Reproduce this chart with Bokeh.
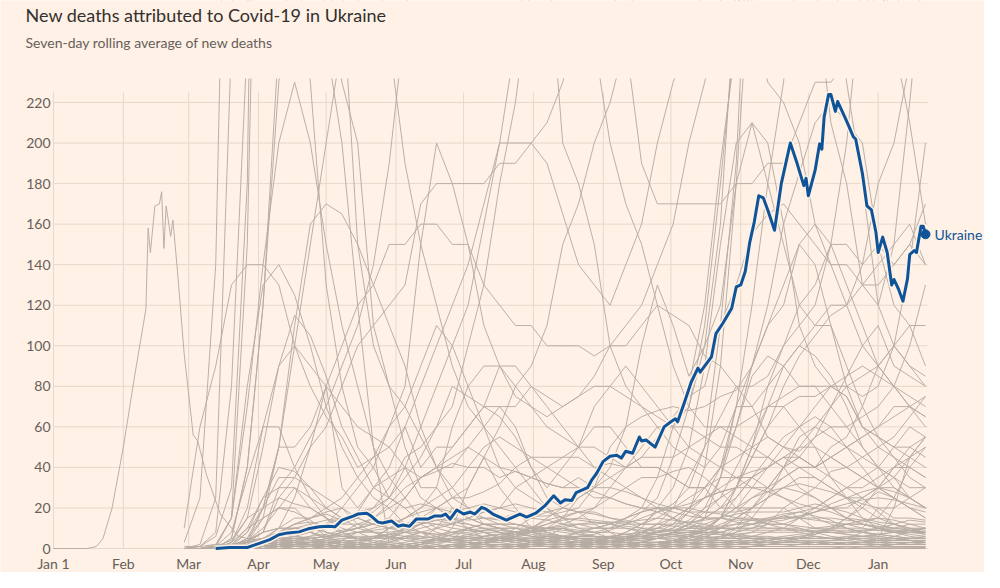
from bokeh.plotting import figure
from bokeh.models import Range1d
from bokeh.embed import file_html
from bokeh.resources import INLINE
from bokeh.core.properties import value

# ---------------- data ----------------
title_text = "New deaths attributed to Covid-19 in Ukraine"
subtitle_text = "Seven-day rolling average of new deaths"

# x axis: days since 1 Jan 2020
month_days = [0, 31, 60, 91, 121, 152, 182, 213, 244, 274, 305, 335, 366]
month_labels = ["Jan 1", "Feb", "Mar", "Apr", "May", "Jun", "Jul", "Aug", "Sep", "Oct", "Nov", "Dec", "Jan"]
y_ticks = [0, 20, 40, 60, 80, 100, 120, 140, 160, 180, 200, 220]
y_tick_labels = [str(t) for t in y_ticks]

# weekly sample dates for the other countries: 28 Feb 2020 .. 22 Jan 2021
week_days = list(range(58, 388, 7))

us = [0,1,6,30,180,700,1500,1900, 1900,1800,1700,1400,1200,1000,950,800, 650,550,550,700,800,950,1050,1100,
      1050,1000,900,850,800,750,750,700, 700,750,800,850,1000,1200,1500,1600, 1800,2300,2600,2300,2600,3100,3300,3100]
uk = [0,0,2,15,150,500,800,850, 750,600,450,380,300,250,190,150, 120,90,70,60,50,40,30,20,
      12,10,10,10,15,20,35,60, 80,120,190,250,340,420,450,430, 420,420,450,500,650,950,1100,1200]
italy = [3,25,140,500,800,780,620,480, 420,300,230,200,110,80,70,55, 40,25,20,15,12,10,8,6,
         5,6,7,9,12,15,18,22, 30,50,110,190,350,520,650,700, 700,600,520,450,420,480,440,420]
spain = [0,2,25,250,650,850,650,550, 380,250,200,120,50,2,0,0, 5,5,10,5,5,5,5,10,
         15,25,30,40,60,100,130,110, 85,100,120,180,300,300,340,300, 280,210,180,130,120,150,220,300]
france = [0,1,8,80,250,900,1000,800, 600,400,280,150,100,80,50,30, 30,20,15,12,12,12,10,10,
          12,15,20,30,40,50,60,60, 70,100,160,280,400,550,450,380, 320,330,300,280,250,300,350,400]
germany = [0,0,1,15,70,140,200,230, 200,150,110,80,50,35,25,15, 10,8,7,6,5,5,5,5,
           5,6,6,5,6,6,8,10, 14,20,35,70,120,180,230,290, 370,430,550,700,750,850,850,800]
brazil = [0,0,0,5,40,120,230,300, 390,550,650,750,850,950,1000,1000, 1050,1050,1050,1050,1050,1050,1050,1050,
          1000,1000,900,850,800,700,700,650, 600,500,450,400,350,400,500,550, 550,630,700,750,700,750,1000,1050]
mexico = [0,0,0,0,3,15,50,100, 150,200,250,270,330,400,450,550, 600,650,650,700,700,680,650,600,
          620,600,550,500,450,450,400,400, 350,330,380,400,420,450,550,600, 650,700,800,800,900,1050,1100,1200]
india = [0,0,0,1,4,8,30,40, 55,70,90,110,140,190,260,330, 320,420,450,500,600,700,750,850,
         950,1000,1000,1050,1150,1150,1100,1000, 950,800,700,600,500,490,550,500, 450,400,350,300,280,250,210,160]
russia = [0,0,0,0,1,4,10,25, 50,80,100,120,130,150,150,160, 160,150,150,130,120,110,110,100,
          100,100,95,100,110,120,140,160, 200,230,270,330,370,390,450,480, 520,550,550,560,580,550,530,500]
iran = [10,60,90,130,140,140,130,100, 80,65,55,40,45,50,60,80, 100,120,140,170,200,200,200,190,
        165,140,130,120,140,160,200,230, 250,280,330,400,430,450,460,430, 370,300,230,180,120,100,90,85]
peru = [0,0,0,0,3,8,25,35, 50,60,80,100,110,120,130,170, 180,180,180,180,190,190,200,210,
        230,260,250,200,170,150,120,90, 70,60,60,55,50,45,40,45, 55,60,60,65,70,80,100,130]
colombia = [0,0,0,0,0,2,5,10, 10,12,15,18,20,25,40,60, 80,100,120,160,200,250,300,310,
            320,300,280,280,250,190,170,170, 170,170,170,180,180,190,190,210, 230,230,240,250,280,330,350,380]
argentina = [0,0,0,0,2,5,8,10, 10,8,6,6,6,7,10,12, 20,25,30,45,60,80,90,110,
             150,170,200,220,250,300,300,330, 340,380,400,300,270,230,220,200, 160,140,140,130,130,140,150,170]
south_africa = [0,0,0,0,0,1,2,4, 6,10,12,15,20,30,45,50, 60,70,100,130,180,220,280,300,
                200,180,150,100,80,70,60,50, 45,40,50,70,70,80,100,120, 130,150,200,280,380,500,600,560]
belgium = [0,0,0,5,40,120,250,300, 230,130,80,50,40,25,20,12, 8,6,5,4,5,6,8,9,
           10,7,6,5,6,6,8,10, 18,40,90,180,210,200,160,110, 90,80,75,60,55,50,50,45]
netherlands = [0,0,1,15,80,130,140,125, 100,70,50,35,25,20,12,8, 4,3,3,2,2,1,2,2,
               2,3,4,5,8,12,15,20, 35,50,65,80,70,55,50,48, 55,70,85,100,110,90,85,80]
canada = [0,0,0,1,5,20,50,110, 160,170,165,150,130,110,90,60, 40,30,20,12,10,8,6,5,
          5,4,4,5,6,7,12,20, 22,25,28,30,45,60,80,95, 105,115,120,130,140,150,160,140]
poland = [0,0,0,1,2,5,10,15, 15,17,14,15,12,15,12,13, 12,10,9,8,5,7,8,10,
          11,12,12,13,12,18,25,45, 70,110,180,260,330,400,450,500, 450,430,400,400,300,250,320,300]
romania = [0,0,0,1,8,20,35,35, 30,25,20,15,12,14,12,15, 20,25,25,28,32,40,45,45,
           45,45,40,42,40,45,55,65, 75,80,110,130,155,165,170,160, 150,140,120,100,90,80,70,65]
czechia = [0,0,0,0,1,4,7,6, 5,3,2,1,1,1,1,1, 1,1,1,1,1,1,1,1,
           2,2,2,3,5,10,20,30, 50,90,150,200,210,180,150,120, 110,120,120,140,150,140,150,140]
hungary = [0,0,0,0,1,3,8,12, 13,11,8,4,4,3,2,1, 1,1,1,1,0,0,1,1,
           1,1,3,5,8,12,18,20, 25,30,40,60,90,110,120,150, 160,150,130,110,90,80,75,70]
turkey = [0,0,0,3,20,60,90,115, 105,85,60,45,30,25,20,22, 20,18,17,15,15,17,16,16,
          18,20,30,50,60,65,68,70, 68,70,75,78,90,120,160,185, 210,220,210,200,150,120,110,110]
indonesia = [0,0,0,3,10,15,20,30, 25,20,15,18,30,35,40,35, 40,40,50,60,70,70,80,75,
             70,75,85,100,100,110,120,115, 110,95,90,80,80,85,100,110, 120,150,150,140,180,200,240,250]
pakistan = [0,0,0,1,2,4,8,12, 15,20,25,35,45,60,70,90, 110,100,80,60,40,30,25,20,
            15,10,8,5,5,5,6,8, 10,12,15,20,30,40,50,60, 70,80,75,60,55,45,35,30]
chile = [0,0,0,0,1,2,4,6, 8,12,20,30,40,60,80,150, 200,180,150,110,90,80,70,60,
         55,50,50,45,40,40,40,35, 30,30,35,35,38,40,45,45, 40,45,50,55,60,70,70,75]
ecuador = [0,0,0,0,3,20,50,50, 60,80,30,20,30,40,60,40, 50,50,60,70,70,60,40,30,
           40,50,60,60,50,40,40,35, 30,30,20,20,20,20,20,15, 10,10,10,10,20,20,25,30]
bolivia = [0,0,0,0,0,1,2,3, 5,6,8,10,15,20,25,35, 40,50,60,70,90,90,80,70,
           60,50,40,35,30,25,20,15, 10,10,8,5,5,5,5,5, 8,10,15,20,30,40,50,55]
egypt = [0,0,1,2,4,5,8,10, 12,14,15,17,18,25,35,45, 60,80,75,70,65,55,40,25,
         20,18,18,15,14,12,12,11, 11,11,11,12,12,13,14,16, 18,22,25,28,30,40,45,50]
iraq = [0,0,1,2,3,4,4,3, 3,3,4,4,5,10,15,20, 30,60,80,90,90,75,70,65,
        70,75,80,80,75,70,65,60, 60,55,50,50,45,45,40,30, 25,20,15,12,10,8,8,7]
philippines = [0,0,1,4,15,20,25,22, 20,15,10,8,5,5,8,10, 12,12,15,18,20,30,35,40,
               45,50,70,80,90,80,70,60, 50,45,40,35,30,30,35,40, 40,45,40,35,40,50,60,55]
sweden = [0,0,0,3,15,50,90,100, 90,80,70,60,55,50,40,25, 20,15,12,10,8,5,3,3,
          2,2,1,1,1,1,1,1, 2,3,5,10,20,30,40,50, 60,70,80,85,90,100,110,90]
switzerland = [0,0,1,8,35,60,60,40, 25,15,8,5,3,2,1,1, 1,1,1,1,1,1,1,1,
               1,1,1,1,1,2,2,3, 6,15,35,60,85,95,90,80, 80,80,85,90,85,80,70,60]
austria = [0,0,0,1,5,15,20,20, 12,6,3,2,1,1,1,1, 1,1,1,1,1,1,1,1,
           1,2,2,2,2,3,5,5, 6,8,15,30,50,70,90,100, 110,110,90,70,55,50,45,40]
portugal = [0,0,0,2,10,25,30,30, 20,15,12,12,12,10,10,8, 6,4,4,5,4,3,2,2,
            2,2,3,4,5,7,8,9, 12,15,20,30,45,60,70,75, 75,80,80,75,80,100,140,200]
japan = [1,1,2,2,3,5,8,12, 15,18,20,12,8,5,2,1, 1,0,0,1,1,1,3,6,
         10,12,13,12,10,8,7,6, 6,5,5,6,8,12,20,25, 30,38,40,45,50,55,65,75]
bangladesh = [0,0,0,0,1,1,3,5, 5,6,8,12,15,22,30,35, 38,42,40,40,35,38,35,32,
              30,35,30,30,28,25,22,20, 18,18,18,18,20,25,30,32, 30,28,25,22,20,15,15,14]
saudi = [0,0,0,0,1,3,4,5, 6,7,9,10,12,15,25,35, 40,45,50,45,40,38,35,32,
         30,30,28,25,22,20,20,18, 16,15,15,14,14,12,12,11, 10,9,8,8,7,6,5,5]
ireland = [0,0,0,2,8,25,40,38, 30,20,15,10,8,6,4,3, 2,1,1,0,0,0,0,0,
           0,0,0,1,1,2,2,3, 4,6,5,5,5,5,5,4, 3,3,3,3,5,20,45,55]
israel = [0,0,0,0,1,3,8,10, 8,5,3,2,1,1,1,1, 1,2,3,6,7,8,10,12,
          15,18,20,25,30,35,35,38, 40,35,28,20,15,12,12,15, 18,20,20,25,30,35,45,55]
morocco = [0,0,0,0,1,2,4,4, 3,2,1,1,1,1,0,1, 1,1,2,3,5,8,10,15,
           20,25,30,35,40,45,45,45, 50,55,60,60,65,70,75,80, 80,70,60,50,40,30,25,20]
bulgaria = [0,0,0,1,1,1,1,2, 2,2,1,1,1,1,1,2, 3,4,5,6,7,8,9,8,
            6,5,5,6,7,8,10,12, 20,25,40,70,90,110,130,150, 140,110,80,60,50,45,40,35]
serbia = [0,0,0,0,1,3,5,6, 5,4,2,1,1,1,1,2, 4,7,10,12,10,8,6,5,
          4,3,2,2,2,1,1,2, 3,4,5,8,15,25,40,55, 60,55,50,45,40,35,30,30]
greece = [0,0,0,1,2,3,3,2, 2,2,1,1,1,0,0,0, 0,0,0,0,0,0,1,2,
          2,3,4,5,5,6,6,7, 8,10,15,30,50,80,90,100, 95,85,70,50,40,35,25,20]
croatia = [0,0,0,0,0,1,2,3, 3,2,1,0,0,0,0,0, 1,2,2,2,2,2,1,1,
           1,1,2,2,2,2,3,4, 6,9,15,25,35,45,55,60, 65,60,50,40,30,25,20,15]
slovakia = [0,0,0,0,0,0,0,1, 0,0,0,0,0,0,0,0, 0,0,0,0,0,0,0,0,
            0,0,0,0,1,1,2,4, 6,10,15,20,25,30,40,45, 40,50,55,70,90,100,90,80]
kazakhstan = [0,0,0,0,0,0,1,1, 1,1,1,1,1,2,3,5, 10,20,15,12,10,5,3,2,
              2,1,1,1,1,1,1,1, 1,1,2,2,3,4,5,5, 6,5,5,5,4,4,4,3]
algeria = [0,0,0,1,4,10,20,18, 14,8,6,5,6,7,8,8, 7,8,9,10,10,10,10,10,
           10,9,8,8,7,6,7,7, 8,9,10,10,12,15,17,18, 16,14,10,8,6,5,4,4]
nigeria = [0,0,0,0,0,0,1,2, 3,5,6,8,9,10,12,15, 15,13,12,10,8,6,5,4,
           3,3,2,2,1,1,1,1, 1,1,1,1,1,1,1,2, 3,4,5,8,10,12,14,13]
guatemala = [0,0,0,0,0,0,0,0, 0,0,1,2,5,10,15,20, 25,30,40,50,55,50,45,40,
             35,30,25,25,22,20,18,15, 12,10,10,10,10,12,10,10, 8,8,8,9,10,10,12,12]
panama = [0,0,0,1,3,5,5,5, 4,3,2,2,2,3,6,8, 10,12,15,18,20,22,20,18,
          15,14,13,12,11,10,10,9, 9,8,8,10,12,14,16,18, 20,25,30,30,35,40,40,35]
honduras = [0,0,0,0,1,1,2,2, 2,2,3,4,5,6,8,12, 15,18,20,22,20,18,15,14,
            12,12,10,10,10,9,9,8, 8,7,7,6,6,6,5,5, 5,5,5,6,7,8,9,10]
dominican = [0,0,0,1,3,8,10,10, 8,6,6,5,5,5,5,5, 6,8,10,12,12,12,10,8,
             6,5,4,4,3,3,3,2, 2,2,2,2,2,3,4,5, 5,5,6,6,7,8,9,8]
belarus = [0,0,0,0,0,0,1,2, 3,4,5,5,6,6,5,4, 4,3,2,2,2,2,2,2,
           2,2,3,3,3,3,3,4, 4,5,6,7,8,8,8,8, 9,9,9,9,9,8,8,8]
moldova = [0,0,0,0,0,1,2,3, 5,6,7,8,8,8,9,12, 14,15,14,15,14,12,11,10,
           9,8,8,10,12,12,12,12, 13,14,15,17,18,18,18,20, 22,20,15,14,12,10,10,9]
armenia = [0,0,0,0,0,1,1,1, 1,1,1,2,3,5,10,12, 14,12,10,8,6,5,4,4,
           4,3,3,3,4,5,8,12, 18,25,30,35,35,30,25,20, 15,12,10,8,7,6,5,5]
georgia = [0,0,0,0,0,0,0,0, 0,0,0,0,0,0,0,0, 0,0,0,0,0,0,0,0,
           0,0,0,1,2,3,5,8, 12,20,25,30,35,40,45,50, 50,45,40,35,30,28,25,20]
kyrgyzstan = [0,0,0,0,0,0,0,0, 0,0,0,0,0,0,1,2, 5,10,30,45,30,20,10,8,
              6,5,4,3,3,3,3,3, 3,3,4,4,4,3,3,3, 3,3,2,2,2,2,2,2]
tunisia = [0,0,0,0,0,1,1,0, 0,0,0,0,0,0,0,0, 0,0,0,0,0,0,0,0,
           1,1,2,3,5,8,10,15, 20,30,40,45,50,55,50,45, 40,45,50,55,60,65,70,65]
lebanon = [0,0,0,0,0,0,0,0, 0,0,0,0,0,0,0,0, 0,0,0,0,0,1,2,3,
           4,5,5,6,7,8,8,9, 10,10,10,12,14,15,15,15, 15,15,14,13,15,25,40,50]
jordan = [0,0,0,0,0,0,0,0, 0,0,0,0,0,0,0,0, 0,0,0,0,0,0,0,0,
          0,0,0,1,2,3,5,8, 12,18,25,40,55,70,70,60, 50,35,25,15,10,8,6,5]
nepal = [0,0,0,0,0,0,0,0, 0,0,0,0,0,0,0,1, 1,1,1,1,1,1,2,3,
         5,8,10,12,15,18,20,20, 18,15,15,13,12,10,10,9, 8,8,7,6,6,5,4,3]
australia = [0,0,0,1,2,3,4,3, 2,1,0,0,0,0,0,0, 0,0,1,2,5,10,15,18,
             20,18,12,8,4,2,1,1, 0,0,0,0,0,0,0,0, 0,0,0,0,0,0,0,0]
denmark = [0,0,0,1,4,8,10,10, 8,5,4,3,2,1,1,1, 0,0,0,0,0,0,0,0,
           0,0,0,0,0,1,1,2, 2,2,2,3,4,5,5,6, 7,10,15,22,28,25,20,15]
slovenia = [0,0,0,0,0,1,2,3, 3,2,1,0,0,0,0,0, 0,0,0,0,0,0,0,0,
            0,0,0,0,0,0,0,1, 2,5,10,18,25,28,30,35, 35,30,25,25,30,30,25,20]
bosnia = [0,0,0,0,0,1,2,3, 2,1,1,1,0,0,0,1, 2,4,6,8,8,7,6,6,
          5,5,5,5,5,5,6,8, 10,15,20,25,35,40,45,40, 35,30,25,20,15,12,10,10]
n_macedonia = [0,0,0,0,0,1,1,2, 2,1,1,1,1,3,5,8, 7,6,6,5,5,4,3,3,
               3,3,3,3,3,3,3,4, 5,7,10,15,20,25,30,28, 25,20,18,15,13,12,10,8]
kenya = [0,0,0,0,0,0,0,0, 0,0,0,0,0,0,0,1, 1,1,2,3,4,5,8,10,
         10,8,6,5,4,4,5,6, 7,9,12,15,15,14,12,10, 8,6,5,4,4,4,4,4]
afghanistan = [0,0,0,0,0,0,0,1, 1,2,4,8,10,12,15,18, 20,15,10,8,5,4,3,2,
               2,2,1,1,1,1,2,3, 4,6,8,10,10,10,10,8, 6,5,4,3,3,2,2,2]
kuwait = [0,0,0,0,0,0,0,0, 0,1,2,3,5,7,6,5, 4,4,4,4,4,4,4,4,
          4,3,3,4,4,5,6,8, 8,8,7,6,5,4,3,3, 3,3,2,2,2,1,1,1]
venezuela = [0,0,0,0,0,0,0,0, 0,0,0,0,0,0,0,0, 0,0,1,1,2,3,4,5,
             6,6,6,6,5,5,5,4, 4,4,4,3,3,3,3,3, 3,3,3,3,3,3,3,3]
finland = [0,0,0,0,1,2,3,4, 5,4,3,2,1,1,0,0, 0,0,0,0,0,0,0,0,
           0,0,0,0,0,0,0,0, 0,0,1,1,1,2,2,2, 3,3,2,2,2,2,2,2]
norway = [0,0,0,0,1,3,5,5, 4,3,2,1,1,0,0,0, 0,0,0,0,0,0,0,0,
          0,0,0,0,0,0,0,0, 0,0,0,1,1,2,3,3, 3,2,2,2,3,3,2,2]
lithuania = [0,0,0,0,0,1,1,1, 1,1,1,0,0,0,0,0, 0,0,0,0,0,0,0,0,
             0,0,0,0,0,0,0,1, 1,2,3,4,6,8,10,15, 20,25,30,35,30,25,20,18]
latvia = [0,0,0,0,0,0,0,0, 0,0,0,0,0,0,0,0, 0,0,0,0,0,0,0,0,
          0,0,0,0,0,0,0,0, 0,1,1,2,3,4,5,6, 7,9,12,14,15,14,12,10]
albania = [0,0,0,0,1,1,1,1, 1,0,0,0,0,0,0,0, 1,1,2,3,3,4,4,3,
           3,3,2,2,2,3,3,3, 4,5,6,8,10,14,16,15, 14,13,12,10,9,9,9,10]
el_salvador = [0,0,0,0,0,0,0,0, 0,0,0,1,1,1,2,3, 4,5,7,9,10,10,8,7,
               6,5,4,4,3,3,3,3, 3,3,3,3,3,3,3,4, 4,4,4,5,5,5,5,5]
costa_rica = [0,0,0,0,0,0,0,0, 0,0,0,0,0,0,0,0, 0,1,1,2,4,6,9,12,
              14,15,14,13,13,14,15,14, 13,12,10,9,9,9,9,9, 10,11,12,12,11,10,9,8]
paraguay = [0,0,0,0,0,0,0,0, 0,0,0,0,0,0,0,0, 0,0,0,1,1,2,3,4,
            6,8,10,12,15,18,20,20, 20,18,17,15,14,14,15,16, 18,20,22,24,25,24,22,20]
malaysia = [0,0,0,1,2,3,2,1, 1,0,0,0,0,0,0,0, 0,0,0,0,0,0,0,0,
            0,0,0,0,0,0,1,1, 2,3,3,3,3,3,3,3, 3,2,2,3,3,4,5,6]
myanmar = [0,0,0,0,0,0,0,0, 0,0,0,0,0,0,0,0, 0,0,0,0,0,0,0,0,
           0,0,1,2,4,8,12,15, 20,25,28,30,30,28,25,22, 20,18,15,12,10,8,7,6]
ethiopia = [0,0,0,0,0,0,0,0, 0,0,0,0,0,0,1,1, 1,2,2,3,5,7,10,14,
            16,18,17,15,13,10,8,7, 6,6,5,5,5,5,6,7, 8,8,7,6,5,4,4,3]
sudan = [0,0,0,0,0,0,1,2, 3,5,8,10,12,10,8,6, 5,4,3,2,1,1,1,1,
         1,0,0,0,0,0,0,0, 0,0,0,0,1,2,3,5, 8,10,12,12,10,9,8,8]
uae = [0,0,0,0,0,0,1,2, 2,3,3,3,2,2,1,1, 1,1,1,1,1,0,0,0,
       1,1,1,1,1,1,1,2, 2,3,3,3,2,2,2,2, 2,2,2,3,4,6,8,10]
azerbaijan = [0,0,0,0,0,0,0,0, 0,0,0,0,0,1,2,3, 5,7,8,9,9,8,7,6,
              5,4,3,3,3,3,3,4, 5,7,10,15,20,28,35,40, 40,35,30,25,18,12,9,7]
uzbekistan = [0,0,0,0,0,0,0,0, 0,0,0,0,0,0,0,0, 1,1,2,4,6,8,8,7,
              5,4,3,2,2,1,1,1, 1,1,1,1,1,1,1,1, 1,1,1,0,0,0,0,0]
ghana = [0,0,0,0,0,0,0,0, 0,0,0,0,1,1,2,3, 4,5,5,5,4,3,2,1,
         1,1,0,0,0,0,0,0, 0,0,0,0,0,0,0,0, 0,0,1,1,1,2,3,3]
syria = [0,0,0,0,0,0,0,0, 0,0,0,1,2,4,6,6, 5,4,3,3,3,4,5,6,
         6,5,4,3,2,2,2,2, 2,2,2,2,2,2,2,2, 2,2,2,2,2,1,1,1]
luxembourg = [0,0,0,0,1,2,3,3, 2,1,1,0,0,0,0,0, 0,0,0,0,0,0,0,0,
              0,0,0,0,0,0,0,0, 0,1,2,3,4,5,5,5, 6,5,5,4,3,3,3,2]
oman = [0,0,0,0,0,0,0,0, 0,0,0,0,0,1,1,2, 3,4,5,6,7,8,9,9,
        8,7,6,5,4,4,5,6, 7,8,8,7,6,5,4,3, 3,2,2,2,1,1,1,1]

china_days = [0,15,19,22,26,31,36,41,42,43,45,47,48,49,50,52,53,55,58,62,64,68,74,82,90,100,120,160,200,260,320,387]
china_vals = [0,0,1,5,20,50,85,118,158,146,169,170,176,148,169,154,162,137,96,56,53,36,17,6,4,2,1,0,0,0,0,0.5]

ukraine_days = [72,78,86,91,96,100,104,109,113,118,122,125,128,133,135,139,141,144,146,150,
                153,155,158,161,166,169,172,174,176,179,182,185,187,190,192,195,201,207,210,214,
                218,222,225,227,230,232,235,237,239,241,244,247,250,252,254,257,260,261,263,267,
                269,271,274,276,277,280,283,286,287,292,294,297,301,303,305,307,309,311,313,315,
                317,320,323,325,327,330,333,334,335,338,340,341,342,344,345,347,348,352,355,356,
                359,361,363,365,366,368,370,372,373,375,377,379,380,382,383,385,386,387]
ukraine_vals = [0,0.5,0.5,2.4,4.4,6.8,7.7,8.2,9.7,10.7,11,10.7,14,16,17,17.4,16,13,12.6,13.6,
                11,11.6,11,14.5,14.5,16,16,17,14.5,19,17,18,17,20.3,19.4,17,14,17,15.5,17.4,
                21,26,22.5,24,23.7,27.6,29,30,34,37,43,45.5,46,44.6,48,47,55,53,53.5,50,
                55,60,62.5,64,62.5,72,82,89,87,94.5,106,111,118.5,129,130,136.6,151,161,174,173,
                167,157,180,190,200,190,179,182.6,174,186.5,199.6,197,212.7,224,224,215.6,220.5,210.8,203,202,
                185,169,167,156,146,153.6,146,130,132.7,128,122,133,145,147,146,159,159,155]

others = [us, uk, italy, spain, france, germany, brazil, mexico, india, russia, iran, peru, colombia,
          argentina, south_africa, belgium, netherlands, canada, poland, romania, czechia, hungary, turkey,
          indonesia, pakistan, chile, ecuador, bolivia, egypt, iraq, philippines, sweden, switzerland,
          austria, portugal, japan, bangladesh, saudi, ireland, israel, morocco, bulgaria, serbia, greece,
          croatia, slovakia, kazakhstan, algeria, nigeria, guatemala, panama, honduras, dominican, belarus,
          moldova, armenia, georgia, kyrgyzstan, tunisia, lebanon, jordan, nepal, australia, denmark,
          slovenia, bosnia, n_macedonia, kenya, afghanistan, kuwait, venezuela, finland, norway,
          lithuania, latvia, albania, el_salvador, costa_rica, paraguay, malaysia, myanmar, ethiopia,
          sudan, uae, azerbaijan, uzbekistan, ghana, syria, luxembourg, oman]

# ---------------- style / layout ----------------
BG = "#fff1e5"
GRID = "#e6d8cb"
GREY = "#b6aca3"
BLUE = "#0f5499"
TXT = "#66605c"
FONT = "Lato"

W, H = 984, 572
SX = 872 / 387.0          # px per day
SY = 446 / 220.0          # px per death
X0 = -53 / SX             # data x at the left edge of the canvas
Y_BASE = 548              # pixel row of the zero line
x_lo, x_hi = X0, X0 + W / SX
y_hi, y_lo = Y_BASE / SY, -(H - Y_BASE) / SY
clip_top = (Y_BASE - 78) / SY   # where the data lines stop at the top


def px_to_x(px):
    return X0 + px / SX


def py_to_y(py):
    return (Y_BASE - py) / SY


p = figure(width=W, height=H, x_range=Range1d(x_lo, x_hi), y_range=Range1d(y_lo, y_hi),
           x_axis_type=None, y_axis_type=None, output_backend="svg", toolbar_location=None,
           min_border=0, min_border_left=0, min_border_right=0, min_border_top=0, min_border_bottom=0,
           background_fill_color=BG, border_fill_color=BG, outline_line_color=None)

# grid
p.segment(x0=[0] * len(y_ticks), y0=y_ticks, x1=[388] * len(y_ticks), y1=y_ticks,
          line_color=GRID, line_width=1)
p.segment(x0=month_days, y0=[0] * len(month_days), x1=month_days, y1=[225] * len(month_days),
          line_color=GRID, line_width=1)

# other countries
xs = [week_days[:len(s)] for s in others] + [china_days]
ys = [s[:len(week_days)] for s in others] + [china_vals]
p.multi_line(xs=xs, ys=ys, line_color=GREY, line_width=1, line_alpha=0.95)

# cover above the plotting area (lines are cut at the top as in the original)
p.quad(left=[x_lo], right=[x_hi], bottom=[clip_top], top=[y_hi], fill_color=BG, line_color=None)

# Ukraine
p.line(ukraine_days, ukraine_vals, line_color=BG, line_width=6, line_join="round")
p.line(ukraine_days, ukraine_vals, line_color=BLUE, line_width=3, line_join="round")
p.scatter([ukraine_days[-1]], [ukraine_vals[-1]], size=9, fill_color=BLUE, line_color=BLUE)
p.text(x=[ukraine_days[-1]], y=[ukraine_vals[-1]], text=["Ukraine"], x_offset=9,
       text_baseline="middle", text_align="left", text_font=value(FONT),
       text_font_size="14px", text_color=BLUE)

# y tick labels
p.text(x=[px_to_x(50)] * len(y_ticks), y=y_ticks, text=y_tick_labels, text_align="right",
       text_baseline="middle", text_font=value(FONT), text_font_size="14px", text_color=TXT)

# month labels
p.text(x=month_days, y=[py_to_y(Y_BASE + 15)] * len(month_days), text=month_labels,
       text_align="center", text_baseline="middle", text_font=value(FONT),
       text_font_size="14px", text_color=TXT)

# titles
p.text(x=[px_to_x(25)], y=[py_to_y(14)], text=[title_text], text_align="left",
       text_baseline="middle", text_font=value(FONT), text_font_size="18px", text_color="#33302e")
p.text(x=[px_to_x(25)], y=[py_to_y(42)], text=[subtitle_text], text_align="left",
       text_baseline="middle", text_font=value(FONT), text_font_size="14px", text_color=TXT)

open("out.html", "w").write(file_html(p, INLINE))
